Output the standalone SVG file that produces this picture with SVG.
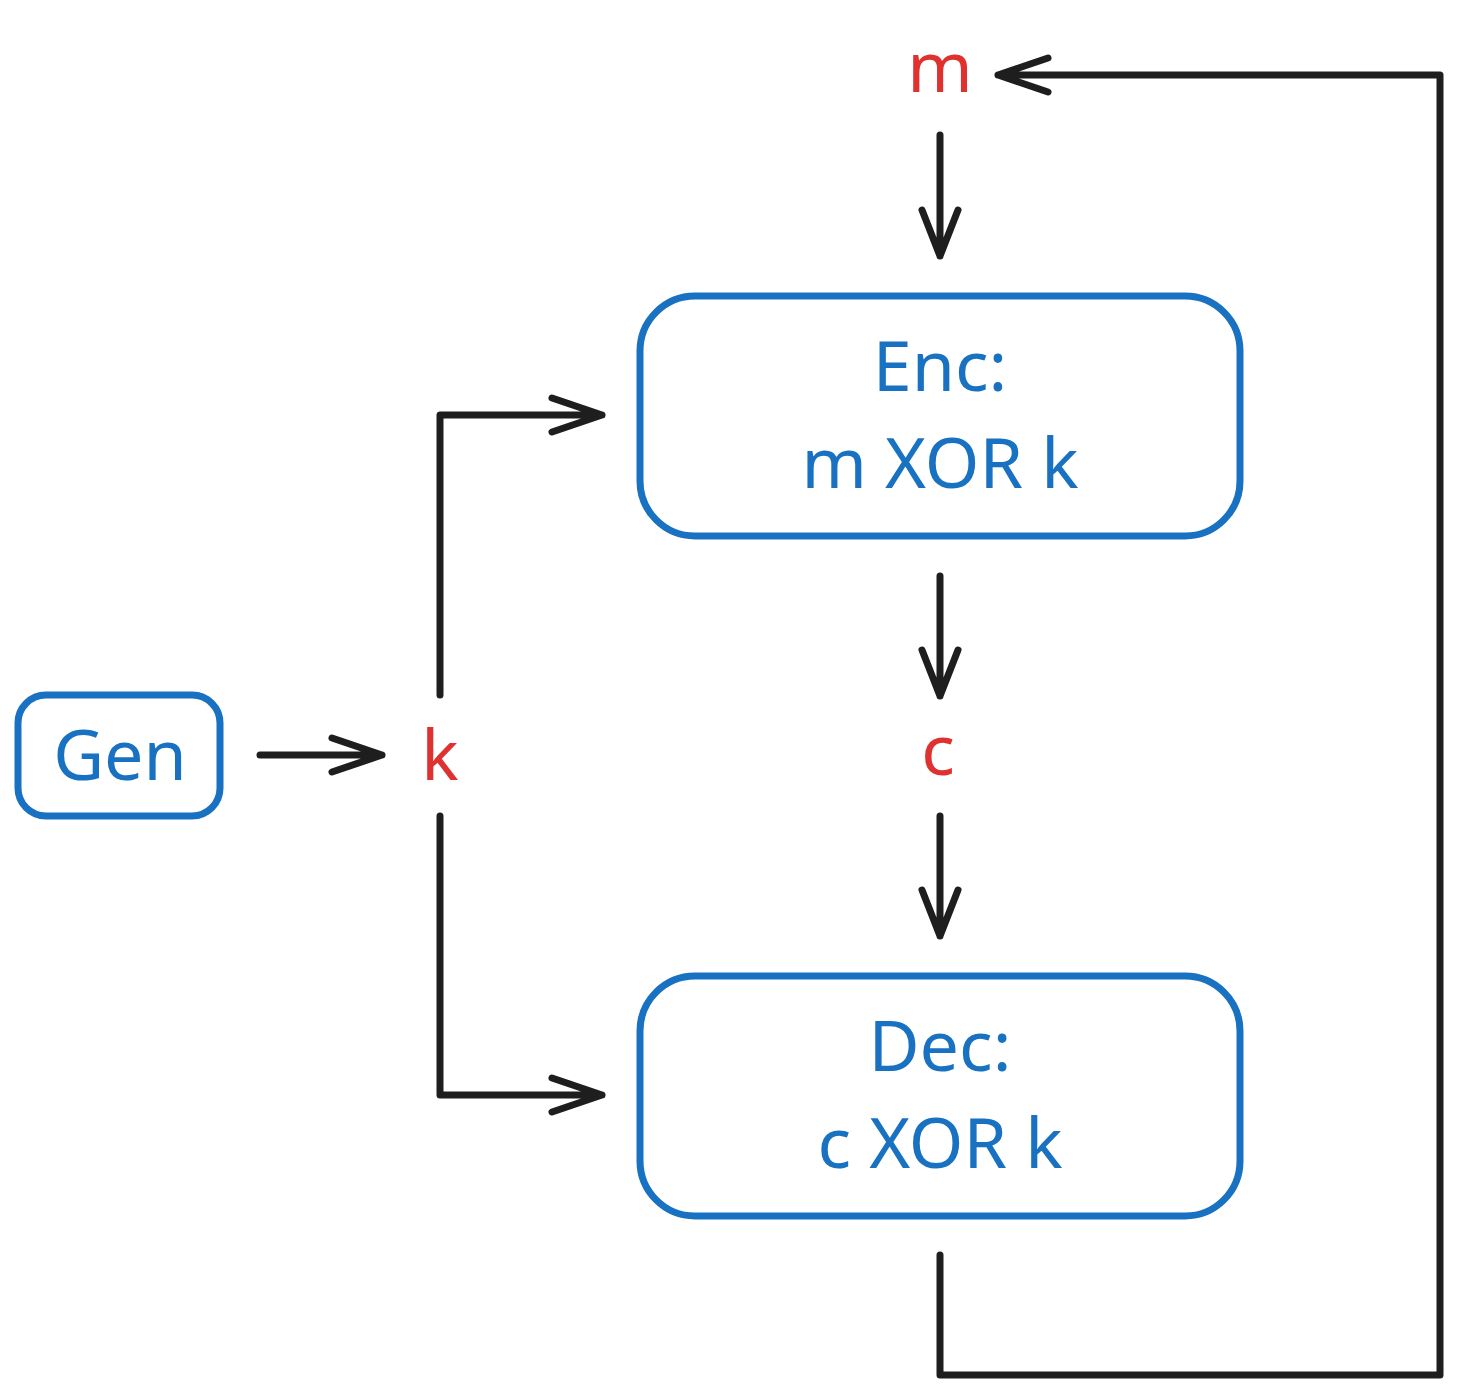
<svg xmlns="http://www.w3.org/2000/svg" width="1460" height="1396" viewBox="0 0 1460 1396">
<style>
.box{fill:#ffffff;stroke:#1971c2;stroke-width:7;}
.lbl{font-family:"Noto Sans","Open Sans",sans-serif;font-size:70px;fill:#1971c2;text-anchor:middle;}
.var{font-family:"Noto Sans","Open Sans",sans-serif;font-size:70px;fill:#e03131;text-anchor:middle;}
.ln{fill:none;stroke:#1e1e1e;stroke-width:7;stroke-linecap:round;stroke-linejoin:round;}
</style>
<rect width="1460" height="1396" fill="#ffffff"/>
<g id="connectors">
  <path class="ln" d="M940 135 L940 256 M922 210 L940 256 L958 210"/>
  <path class="ln" d="M940 576 L940 696 M922 650 L940 696 L958 650"/>
  <path class="ln" d="M940 816 L940 936 M922 890 L940 936 L958 890"/>
  <path class="ln" d="M260 755 L382 755 M332 738 L382 755 L332 772"/>
  <path class="ln" d="M440 695 L440 415 L602 415 M552 398 L602 415 L552 432"/>
  <path class="ln" d="M440 816 L440 1095 L602 1095 M552 1078 L602 1095 L552 1112"/>
  <path class="ln" d="M940 1255 L940 1375 L1440 1375 L1440 75 L998 75 M1048 58 L998 75 L1048 92"/>
</g>
<g id="gen">
  <rect class="box" x="18" y="695" width="202" height="121" rx="28"/>
  <text class="lbl" x="120" y="780">Gen</text>
</g>
<g id="enc">
  <rect class="box" x="640" y="296" width="600" height="240" rx="55"/>
  <text class="lbl" x="940" y="391">Enc:</text>
  <text class="lbl" x="940" y="488">m XOR k</text>
</g>
<g id="dec">
  <rect class="box" x="640" y="976" width="600" height="240" rx="55"/>
  <text class="lbl" x="940" y="1071">Dec:</text>
  <text class="lbl" x="940" y="1168">c XOR k</text>
</g>
<g id="m"><text class="var" x="940" y="92">m</text></g>
<g id="k"><text class="var" x="440" y="780">k</text></g>
<g id="c"><text class="var" x="938" y="775">c</text></g>
</svg>
